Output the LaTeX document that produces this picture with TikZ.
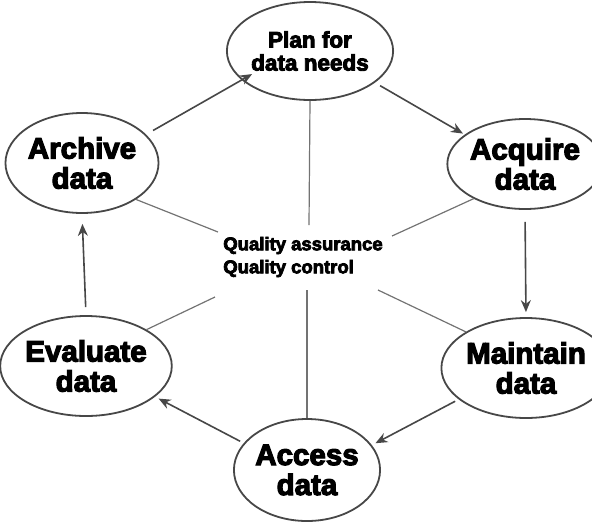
\documentclass[tikz,border=0pt]{standalone}
\usepackage{fontspec}
\setmainfont{Liberation Sans}
\newfontfamily\heavyfont{Liberation Sans Bold}[FakeBold=4]
\usetikzlibrary{shapes.geometric,arrows.meta}

\begin{document}
\begin{tikzpicture}[x=1pt,y=-1pt,
  stage/.style={ellipse, draw=black!72, line width=1.8pt, fill=white,
    inner sep=0pt, align=center,
    font=\heavyfont\fontsize{29.5}{30}\selectfont},
  flow/.style={draw=black!72, line width=1.6pt,
    -{Stealth[length=12pt,width=10pt]}},
  spoke/.style={draw=black!55, line width=1.2pt}]

  \useasboundingbox (0,0) rectangle (592,523);

  % the six stages of the data life cycle
  \node[stage, minimum width=136pt, minimum height=98pt,
        font=\heavyfont\fontsize{22.5}{23}\selectfont] (plan) at (310,51) {Plan for\\data needs};
  \node[stage, minimum width=140pt, minimum height=100pt] (archive) at (82,163) {Archive\\data};
  \node[stage, minimum width=128pt, minimum height=90pt] (acquire) at (525,164) {Acquire\\data};
  \node[stage, minimum width=142pt, minimum height=100pt] (evaluate) at (86,366) {Evaluate\\data};
  \node[stage, minimum width=128pt, minimum height=100pt] (maintain) at (526,368) {Maintain\\data};
  \node[stage, minimum width=144pt, minimum height=102pt] (access) at (307,470) {Access\\data};

  % quality hub in the middle
  \node[align=left, inner sep=0pt,
        font=\heavyfont\fontsize{18.5}{23}\selectfont] (qa) at (303,257)
        {Quality assurance\\Quality control};

  % where the spokes stop around the hub
  \coordinate (hubN)  at (309,225);
  \coordinate (hubS)  at (307,290);
  \coordinate (hubNW) at (218,232);
  \coordinate (hubNE) at (392,236);
  \coordinate (hubSW) at (215,297);
  \coordinate (hubSE) at (378,290);

  \draw[spoke] (plan.south) -- (hubN);
  \draw[spoke] (access.north) -- (hubS);
  \draw[spoke] (archive.-34) -- (hubNW);
  \draw[spoke] (acquire.214) -- (hubNE);
  \draw[spoke] (evaluate.31) -- (hubSW);
  \draw[spoke] (maintain.149) -- (hubSE);

  % the cycle
  \draw[flow, shorten <=8pt, shorten >=-12pt] (archive.24) -- (plan.203);
  \draw[flow, shorten <=6pt, shorten >=2pt] (plan.-26) -- (acquire.154);
  \draw[flow, shorten <=12pt, shorten >=5pt] (acquire.south) -- (maintain.north);
  \draw[flow, shorten <=4pt, shorten >=4pt] (maintain.205) -- (access.21);
  \draw[flow, shorten <=4pt, shorten >=4pt] (access.157) -- (evaluate.-24);
  \draw[flow, shorten <=8pt, shorten >=10pt] (evaluate.north) -- (archive.south);
\end{tikzpicture}
\end{document}
